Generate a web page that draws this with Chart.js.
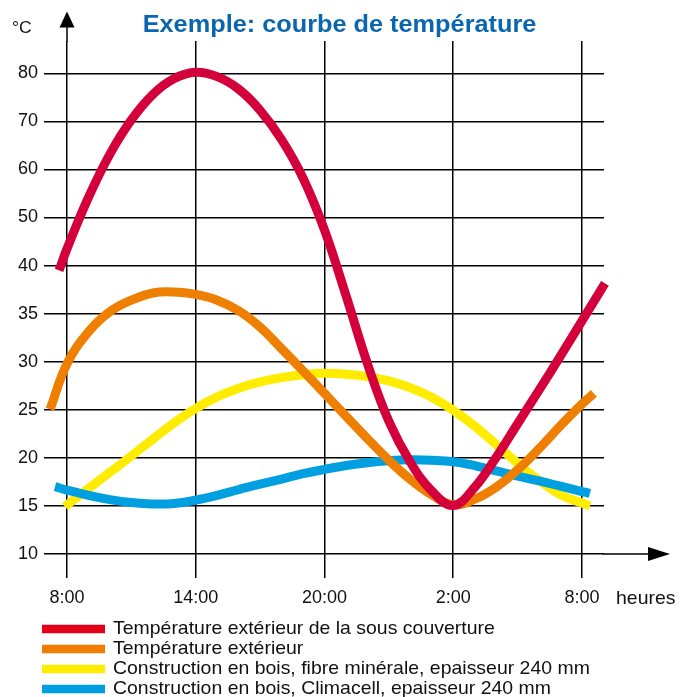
<!DOCTYPE html>
<html>
<head>
<meta charset="utf-8">
<script src="https://cdn.jsdelivr.net/npm/chart.js@4/dist/chart.umd.min.js"></script>
<style>
html,body{margin:0;padding:0;background:#fff;}
#wrap{width:689px;height:697px;position:relative;overflow:hidden;}
canvas{display:block;}
</style>
</head>
<body>
<div id="wrap"><canvas id="c" width="689" height="697"></canvas></div>
<script>
// ---- text ----
const titleText = 'Exemple: courbe de température';
const yUnit = '°C';
const xUnit = 'heures';

// ---- axes ----
const yLabels = [10, 15, 20, 25, 30, 35, 40, 50, 60, 70, 80];   // evenly spaced on the chart
const xTickHours = [0, 6, 12, 18, 24];                           // hours after 8:00
const xTickLabels = ['8:00', '14:00', '20:00', '2:00', '8:00'];

// ---- series ----
const seriesLabels = [
  'Température extérieur de la sous couverture',
  'Température extérieur',
  'Construction en bois, fibre minérale, epaisseur 240 mm',
  'Construction en bois, Climacell, epaisseur 240 mm'
];

const redHours = [-0.37, 0, 1, 2, 3, 4, 5, 6, 7, 8, 9, 10, 11, 12, 13, 14, 15, 16, 17, 18, 19, 20, 21, 22, 23, 24, 25.07];
const redTemps = [39.5, 43.5, 54.2, 63.2, 70.3, 75.6, 78.9, 80.2, 79.3, 76.7, 72.3, 66.2, 58.2, 47.4, 36.9, 29.8, 23.8, 19.55, 16.55, 15.05, 16.95, 20.05, 23.55, 27.05, 30.6, 34.25, 38.15];

const orangeHours = [-0.79, 0, 1, 2, 3, 4, 5, 6, 7, 8, 9, 10, 11, 12, 13, 14, 15, 16, 17, 18, 19, 20, 21, 22, 23, 24, 24.55];
const orangeTemps = [25.05, 29.8, 33.1, 35.2, 36.4, 37.15, 37.25, 37.0, 36.4, 35.3, 33.6, 31.35, 29.05, 26.7, 24.35, 22.0, 19.75, 17.75, 16.15, 15.1, 15.7, 16.95, 18.75, 20.95, 23.35, 25.6, 26.7];

const yellowHours = [-0.09, 0, 1, 2, 3, 4, 5, 6, 7, 8, 9, 10, 11, 12, 13, 14, 15, 16, 17, 18, 19, 20, 21, 22, 23, 24, 24.37];
const yellowTemps = [14.9, 15.1, 16.8, 18.5, 20.2, 21.95, 23.65, 25.15, 26.35, 27.25, 27.9, 28.35, 28.65, 28.8, 28.7, 28.45, 28.0, 27.3, 26.3, 24.95, 23.3, 21.4, 19.45, 17.65, 16.15, 15.3, 15.0];

const blueHours = [-0.56, 0, 1, 2, 3, 4, 5, 6, 7, 8, 9, 10, 11, 12, 13, 14, 15, 16, 17, 18, 19, 20, 21, 22, 23, 24, 24.37];
const blueTemps = [17.0, 16.65, 16.1, 15.66, 15.35, 15.2, 15.25, 15.6, 16.1, 16.7, 17.26, 17.8, 18.35, 18.8, 19.2, 19.5, 19.7, 19.8, 19.75, 19.6, 19.2, 18.65, 18.1, 17.6, 17.05, 16.5, 16.3];

// ---- styles ----
const lineColors   = ['#d4003b', '#ef7f00', '#ffec00', '#00a0e0'];
const legendColors = ['#e3001b', '#ef7d00', '#ffed00', '#009fe3'];
const drawOrder    = [0, 1, 3, 2];
const STRETCH = 1.1;

function toIndex(v) {
  const n = yLabels.length;
  for (let i = 0; i < n - 1; i++) {
    if (v <= yLabels[i + 1] || i === n - 2) {
      return i + (v - yLabels[i]) / (yLabels[i + 1] - yLabels[i]);
    }
  }
}

const seriesHours = [redHours, orangeHours, yellowHours, blueHours];
const seriesTemps = [redTemps, orangeTemps, yellowTemps, blueTemps];

const datasets = seriesLabels.map((label, k) => ({
  label,
  data: seriesHours[k].map((h, i) => ({ x: h, y: toIndex(seriesTemps[k][i]) })),
  borderColor: lineColors[k],
  backgroundColor: legendColors[k],
  legendColor: legendColors[k],
  borderWidth: 9,
  borderCapStyle: 'butt',
  borderJoinStyle: 'round',
  pointRadius: 0,
  pointHoverRadius: 0,
  fill: false,
  tension: 0.4,
  clip: false,
  order: drawOrder[k]
}));

function stretchText(ctx, text, x, y, font, color, align) {
  ctx.save();
  ctx.font = font;
  ctx.fillStyle = color;
  ctx.textBaseline = 'alphabetic';
  ctx.textAlign = align;
  ctx.translate(x, y);
  ctx.scale(STRETCH, 1);
  ctx.fillText(text, 0, 0);
  ctx.restore();
}

const decor = {
  id: 'decor',
  beforeDatasetsDraw(chart) {
    const ctx = chart.ctx, xs = chart.scales.x, ys = chart.scales.y, ca = chart.chartArea;
    const x0 = xs.getPixelForValue(xTickHours[0]);
    const yb = ys.getPixelForValue(0);
    ctx.save();
    ctx.strokeStyle = '#000';
    ctx.fillStyle = '#000';
    ctx.lineWidth = 1.5;
    ctx.beginPath();
    ctx.moveTo(x0, ca.top + 1);
    ctx.lineTo(x0, 26);
    ctx.stroke();
    ctx.beginPath();
    ctx.moveTo(x0, 11.5);
    ctx.lineTo(x0 - 7.5, 27.5);
    ctx.lineTo(x0 + 7.5, 27.5);
    ctx.closePath();
    ctx.fill();
    ctx.beginPath();
    ctx.moveTo(ca.right - 1, yb);
    ctx.lineTo(650, yb);
    ctx.stroke();
    ctx.beginPath();
    ctx.moveTo(670, yb);
    ctx.lineTo(648, yb - 7);
    ctx.lineTo(648, yb + 7);
    ctx.closePath();
    ctx.fill();
    ctx.restore();
  },
  afterDraw(chart) {
    const ctx = chart.ctx, xs = chart.scales.x;
    stretchText(ctx, titleText, 339.5, 32.3, 'bold 23px "Liberation Sans", Arial, sans-serif', '#0b66b0', 'center');
    stretchText(ctx, yUnit, 12, 33, '16px "Liberation Sans", Arial, sans-serif', '#111', 'left');
    stretchText(ctx, xUnit, xs.getPixelForValue(xTickHours[xTickHours.length - 1]) + 34, 604, '17.7px "Liberation Sans", Arial, sans-serif', '#111', 'left');
    chart.data.datasets.forEach((ds, i) => {
      const cy = 629 + i * 20;
      ctx.save();
      ctx.fillStyle = ds.legendColor;
      ctx.fillRect(42, cy - 4.25, 63, 8.5);
      ctx.restore();
      stretchText(ctx, ds.label, 113, cy + 4.5, '17.7px "Liberation Sans", Arial, sans-serif', '#111', 'left');
    });
  }
};

const tickFont = { family: '"Liberation Sans", Arial, sans-serif', size: 18 };

new Chart(document.getElementById('c'), {
  type: 'line',
  data: { datasets },
  options: {
    responsive: false,
    devicePixelRatio: 1,
    animation: false,
    events: [],
    layout: { padding: { left: 0, right: 85, top: 41, bottom: 93 } },
    plugins: {
      legend: { display: false },
      tooltip: { enabled: false },
      title: { display: false }
    },
    scales: {
      x: {
        type: 'linear',
        min: -1.072,
        max: 25.026,
        afterBuildTicks: s => { s.ticks = xTickHours.map(v => ({ value: v })); },
        afterFit: s => { s.height = 50; },
        ticks: {
          callback: (v, i) => xTickLabels[i],
          font: tickFont,
          color: '#111',
          padding: 9,
          maxRotation: 0,
          autoSkip: false
        },
        grid: { color: '#000', lineWidth: 1.5, drawTicks: true, tickLength: 24, tickColor: '#000', tickWidth: 1.5 },
        border: { display: false }
      },
      y: {
        type: 'linear',
        min: 0,
        max: 10.672,
        afterBuildTicks: s => { s.ticks = yLabels.map((v, i) => ({ value: i })); },
        afterFit: s => { s.width = 44; },
        ticks: {
          callback: (v, i) => String(yLabels[i]),
          font: tickFont,
          color: '#111',
          padding: 6,
          autoSkip: false
        },
        grid: { color: '#000', lineWidth: 1.5, drawTicks: false },
        border: { display: false }
      }
    }
  },
  plugins: [decor]
});
</script>
</body>
</html>
